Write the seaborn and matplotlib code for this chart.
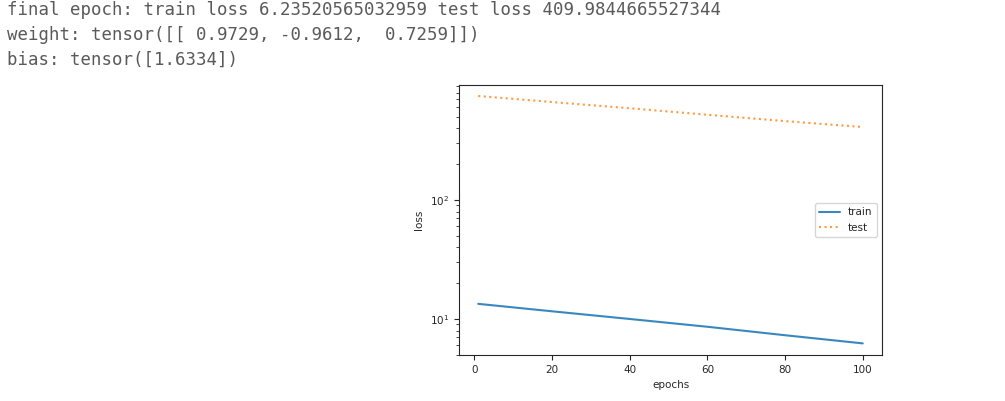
import numpy as np
import pandas as pd
import matplotlib
matplotlib.use('Agg')
import matplotlib.pyplot as plt
import seaborn as sns

sns.set_style("ticks")
plt.rcParams['font.family'] = ['DejaVu Sans']

# values
epochs = [1, 20, 40, 60, 80, 100]
train_loss = [13.4, 11.6, 10.0, 8.6, 7.3, 6.235]
test_loss = [748, 665, 590, 520, 460, 410]
log_lines = [
    "final epoch: train loss 6.23520565032959 test loss 409.9844665527344",
    "weight: tensor([[ 0.9729, -0.9612,  0.7259]])",
    "bias: tensor([1.6334])",
]

fig = plt.figure(figsize=(10.05, 4.01), dpi=100)
for i, line in enumerate(log_lines):
    fig.text(7 / 1005, 1 - (10 + 25 * i) / 401, line, family='DejaVu Sans Mono',
             fontsize=12.55, color='#5a5a5a', va='center', ha='left')

ax = fig.add_axes([459 / 1005, 1 - 355 / 401, 423 / 1005, 270 / 401])
df = pd.DataFrame({'epochs': epochs, 'train': train_loss, 'test': test_loss})
sns.lineplot(data=df, x='epochs', y='train', ax=ax, label='train', color='#3a87c0', lw=1.5)
sns.lineplot(data=df, x='epochs', y='test', ax=ax, label='test', color='#ff9a40', lw=1.5, linestyle=':')
ax.set_yscale('log')
ax.set_xlim(-3.95, 104.95)
ax.set_ylim(4.98, 925)
ax.set_xticks([0, 20, 40, 60, 80, 100])
ax.set_xlabel('epochs', fontsize=7.5)
ax.set_ylabel('loss', fontsize=7.5)
ax.tick_params(labelsize=7.5)
ax.legend(loc='center right', fontsize=7.5)
for s in ax.spines.values():
    s.set_linewidth(0.8)

fig.savefig('out.png', dpi=100)
